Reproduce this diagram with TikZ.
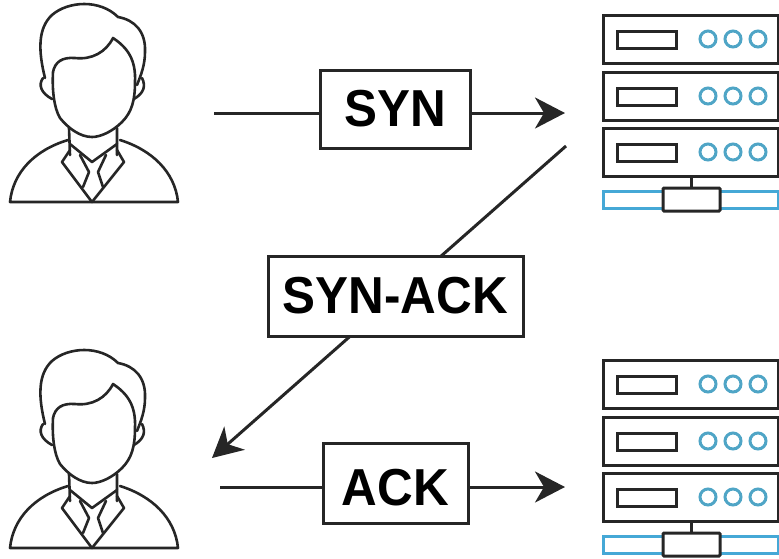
\documentclass[tikz,border=0pt]{standalone}
\usepackage{fontspec}
\setmainfont[FakeStretch=0.95]{Liberation Sans}
\usetikzlibrary{arrows.meta}
\definecolor{ink}{HTML}{262626}
\definecolor{ring}{HTML}{4FA5C6}
\definecolor{strip}{HTML}{45A8D6}
\tikzset{
  x=1pt,y=-1pt,
  msg/.style={draw=ink,line width=3pt,fill=white,inner sep=0pt,font=\fontsize{52}{52}\selectfont\bfseries,text=black,anchor=center},
  link/.style={draw=ink,line width=3pt},
  tip/.style={-{Stealth[length=30pt,width=31pt,inset=9pt]}},
  outline/.style={draw=ink,line width=2.6pt,line join=round,line cap=round},
  pics/person/.style={code={
    % shoulders and base
    \draw[outline] (68,140) .. controls (35,150) and (13,172) .. (10,202) -- (178,202) .. controls (175,172) and (152,150) .. (120,140);
    % hair
    \draw[outline] (45,78) .. controls (38,50) and (38,28) .. (52,15) .. controls (68,1) and (100,-1) .. (118,17) .. controls (135,20) and (146,32) .. (145,52) .. controls (145,65) and (141,75) .. (137,85);
    % face
    \draw[outline] (53,72) .. controls (55,62) and (62,57) .. (75,58) .. controls (92,60) and (106,52) .. (113,38) .. controls (128,48) and (136,60) .. (135,82) .. controls (135,100) and (132,112) .. (122,122) .. controls (112,132) and (100,137) .. (92,137) .. controls (80,137) and (68,128) .. (60,118) .. controls (54,108) and (52,90) .. (53,72);
    % ears
    \draw[outline] (43,78) .. controls (38,85) and (41,93) .. (52,99);
    \draw[outline] (142,78) .. controls (146,86) and (144,93) .. (134,99);
    % neck
    \draw[outline] (69,128) -- (70,155) (117,128) -- (117,155);
    % collar
    \draw[outline] (70,150) -- (62,162) -- (92,202) -- (124,162) -- (117,150);
    \draw[outline] (70,144) -- (92,162) -- (117,144);
    % tie
    \draw[outline] (80,155) -- (89,172) -- (83,187);
    \draw[outline] (106,155) -- (98,172) -- (103,187);
  }},
  pics/unit/.style={code={
    \draw[ink,line width=3pt] (603,0) rectangle (778,48);
    \draw[ink,line width=3pt] (617,16) rectangle (676,33);
    \foreach \cx in {708,733,758} \draw[ring,line width=3pt] (\cx,24) circle[radius=8];
  }},
  pics/rack/.style={code={
    \pic at (0,15) {unit};
    \pic at (0,72) {unit};
    \pic at (0,128) {unit};
    \draw[ink,line width=3pt] (691,176) -- (691,188);
    \draw[strip,line width=3pt] (603,191) rectangle (778,208);
    \draw[ink,line width=3pt,fill=white,rounded corners=1pt] (663,188) rectangle (720,211);
  }},
}
\begin{document}
\begin{tikzpicture}
\useasboundingbox (0,0) rectangle (779,558);
\pic at (0,0) {person};
\pic at (0,346) {person};
\pic at (0,0) {rack};
\pic at (0,345) {rack};
\coordinate (a1) at (214,113);
\coordinate (a2) at (565,113);
\coordinate (b1) at (566,146);
\coordinate (b2) at (212,458);
\coordinate (c1) at (220,487);
\coordinate (c2) at (565,487);
\draw[link,tip] (b1) -- (b2);
\node[msg,minimum width=150pt,minimum height=78pt] (syn) at (395.5,109) {SYN};
\node[msg,minimum width=255pt,minimum height=80pt] (synack) at (395.5,296) {SYN-ACK};
\node[msg,minimum width=145pt,minimum height=80pt,text height=44pt,text depth=0pt] (ack) at (395.5,483) {ACK};
\draw[link] (a1) -- (syn.west |- a1);
\draw[link,tip] (syn.east |- a2) -- (a2);
\draw[link] (c1) -- (ack.west |- c1);
\draw[link,tip] (ack.east |- c2) -- (c2);
\end{tikzpicture}
\end{document}
